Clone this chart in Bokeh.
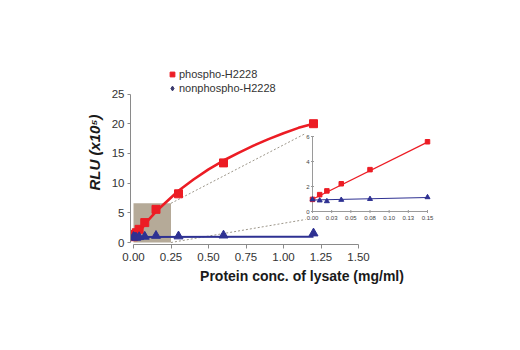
from bokeh.plotting import figure
from bokeh.models import Range1d, FixedTicker, Legend, LegendItem
from bokeh.core.properties import value
from bokeh.embed import file_html
from bokeh.resources import INLINE

# ---------------- data ----------------
conc = [0.0, 0.009375, 0.01875, 0.0375, 0.075, 0.15, 0.3, 0.6, 1.2]
phospho = [0.97, 1.35, 1.65, 2.22, 3.35, 5.58, 8.2, 13.4, 20.0]
nonphospho = [0.96, 0.88, 0.82, 0.93, 1.0, 1.14, 1.05, 1.2, 1.55]

fit_x = [0.0, 0.05, 0.1, 0.15, 0.2, 0.3, 0.4, 0.5, 0.6, 0.7, 0.8, 0.9, 1.0, 1.1, 1.2]
fit_phospho = [0.5, 2.2, 3.8, 5.2, 6.4, 8.7, 10.6, 12.3, 13.8, 15.1, 16.3, 17.4, 18.4, 19.3, 20.0]
fit_non_x = [0.0, 1.2]
fit_nonphospho = [0.92, 0.97]

inset_conc = conc[:6]
inset_phospho = phospho[:6]
inset_nonphospho = nonphospho[:6]
inset_fit_x = [0.0, 0.15]
inset_fit_phospho = [0.98, 5.55]
inset_fit_nonphospho = [0.92, 1.12]

zoom_box_x = [0.0, 0.25]
zoom_box_y = [0.0, 6.6]

main_x_ticks = [0.0, 0.25, 0.5, 0.75, 1.0, 1.25, 1.5]
main_x_labels = ["0.00", "0.25", "0.50", "0.75", "1.00", "1.25", "1.50"]
main_y_ticks = [0, 5, 10, 15, 20, 25]
inset_x_ticks = [0.0, 0.025, 0.05, 0.075, 0.1, 0.125, 0.15]
inset_x_labels = ["0.00", "0.03", "0.05", "0.08", "0.10", "0.13", "0.15"]
inset_y_ticks = [0, 2, 4, 6]
inset_y_labels = ["0", "2", "4", "6"]

labels = ["phospho-H2228", "nonphospho-H2228"]

RED = "#ec1c24"
BLUE = "#2e3192"
FONT = "Liberation Sans"

# ---------------- layout geometry (pixels) ----------------
FRAME_L, FRAME_T, FRAME_W, FRAME_H = 130, 60, 343, 184
PX_X = 150.0   # main px per x unit
PX_Y = 5.94    # main px per y unit
X0_PX, Y0_PX = 133.0, 242.0
IPX_X = 115 / 0.15   # inset px per x unit
IPX_Y = 75 / 6.0     # inset px per y unit
IX0_PX, IY0_PX = 312.0, 211.0

def to_main(px, py):
    return ((px - X0_PX) / PX_X, (Y0_PX - py) / PX_Y)

x_start = -(X0_PX - FRAME_L) / PX_X
y_start = -(FRAME_T + FRAME_H - Y0_PX) / PX_Y
ix_start = -(IX0_PX - FRAME_L) / IPX_X
iy_start = -(FRAME_T + FRAME_H - IY0_PX) / IPX_Y

p = figure(frame_width=FRAME_W, frame_height=FRAME_H,
           min_border_left=FRAME_L, min_border_right=520 - FRAME_L - FRAME_W,
           min_border_top=FRAME_T, min_border_bottom=350 - FRAME_T - FRAME_H,
           x_range=Range1d(x_start, x_start + FRAME_W / PX_X),
           y_range=Range1d(y_start, y_start + FRAME_H / PX_Y),
           output_backend="svg", toolbar_location=None)
p.extra_x_ranges = {"inset": Range1d(ix_start, ix_start + FRAME_W / IPX_X)}
p.extra_y_ranges = {"inset": Range1d(iy_start, iy_start + FRAME_H / IPX_Y)}
p.grid.visible = False
p.outline_line_color = None
p.background_fill_color = "white"
p.border_fill_color = "white"

xa = p.xaxis[0]
xa.ticker = FixedTicker(ticks=main_x_ticks)
xa.major_label_overrides = {t: l for t, l in zip(main_x_ticks, main_x_labels)}
xa.bounds = (main_x_ticks[0], main_x_ticks[-1])
xa.axis_label = "Protein conc. of lysate (mg/ml)"

ya = p.yaxis[0]
ya.ticker = FixedTicker(ticks=main_y_ticks)
ya.bounds = (main_y_ticks[0], main_y_ticks[-1])
ya.axis_label = "RLU (x10\u2075)"

for ax in (xa, ya):
    ax.axis_line_color = "#8a8a8a"
    ax.major_tick_line_color = "#8a8a8a"
    ax.minor_tick_line_color = None
    ax.major_tick_in = 0
    ax.major_label_text_font = FONT
    ax.major_label_text_font_size = "11.5px"
    ax.major_label_text_color = "#333333"
    ax.axis_label_text_font = FONT
    ax.axis_label_text_font_style = "bold"
    ax.axis_label_text_color = "#1a1a1a"
xa.major_tick_out = 4
xa.major_label_standoff = 4
xa.axis_label_text_font_size = "14px"
xa.axis_label_standoff = 4
ya.major_tick_out = 3
ya.major_label_standoff = 3
ya.axis_label_text_font_size = "15px"
ya.axis_label_text_font_style = "bold italic"
ya.axis_label_standoff = 6

# zoom box and connectors
p.quad(left=[zoom_box_x[0]], right=[zoom_box_x[1]], bottom=[zoom_box_y[0]], top=[zoom_box_y[1]],
       fill_color="#b5aa98", line_color=None)
t_top = to_main(305, 133)
t_bot = to_main(305, 219)
p.segment(x0=[zoom_box_x[1], zoom_box_x[1]], y0=[zoom_box_y[1], zoom_box_y[0]],
          x1=[t_top[0], t_bot[0]], y1=[t_top[1], t_bot[1]],
          line_color="#9c968a", line_width=1, line_dash="2 2")

# main series
p.line(fit_x, fit_phospho, line_color=RED, line_width=2.6)
red_pts = p.scatter(conc, phospho, marker="square", size=8, color=RED)
p.line(fit_non_x, fit_nonphospho, line_color=BLUE, line_width=2)
p.scatter(conc, nonphospho, marker="triangle", size=9, color=BLUE)
legend_dia = p.scatter(x=[float("nan")], y=[float("nan")], marker="diamond", size=9, color="#3b3b6e")

legend = Legend(items=[LegendItem(label=labels[0], renderers=[red_pts]),
                       LegendItem(label=labels[1], renderers=[legend_dia])],
                location=(36, 149), padding=0, margin=0, spacing=0,
                glyph_width=12, glyph_height=14, label_height=14, label_standoff=1,
                label_text_font=FONT, label_text_font_size="11px", label_text_color="#333333",
                border_line_color=None, background_fill_color=None)
p.add_layout(legend)

# ---------------- inset (drawn on the "inset" ranges) ----------------
IR = dict(x_range_name="inset", y_range_name="inset")
p.segment(x0=[inset_x_ticks[0], inset_x_ticks[0]], y0=[inset_y_ticks[0], inset_y_ticks[0]],
          x1=[inset_x_ticks[-1], inset_x_ticks[0]], y1=[inset_y_ticks[0], inset_y_ticks[-1]],
          line_color="#9a9a9a", line_width=1, **IR)
p.scatter(x=[inset_x_ticks[0]] * len(inset_y_ticks), y=inset_y_ticks, marker="dash", size=3,
          line_color="#9a9a9a", line_width=1, **IR)
p.scatter(x=inset_x_ticks, y=[inset_y_ticks[0]] * len(inset_x_ticks), marker="dash", size=3,
          angle=1.5708, line_color="#9a9a9a", line_width=1, **IR)
p.text(x=inset_x_ticks, y=[inset_y_ticks[0]] * len(inset_x_ticks), text=inset_x_labels,
       y_offset=4, text_align="center", text_baseline="top",
       text_font=value(FONT), text_font_size=value("6px"), text_color="#444444", **IR)
p.text(x=[inset_x_ticks[0]] * len(inset_y_ticks), y=inset_y_ticks, text=inset_y_labels,
       x_offset=-3, text_align="right", text_baseline="middle",
       text_font=value(FONT), text_font_size=value("6px"), text_color="#444444", **IR)

p.line(inset_fit_x, inset_fit_phospho, line_color=RED, line_width=1.2, **IR)
p.scatter(inset_conc, inset_phospho, marker="square", size=4.5, color=RED, **IR)
p.line(inset_fit_x, inset_fit_nonphospho, line_color=BLUE, line_width=1.2, **IR)
p.scatter(inset_conc, inset_nonphospho, marker="triangle", size=5, color=BLUE, **IR)

open("out.html", "w").write(file_html(p, INLINE))
